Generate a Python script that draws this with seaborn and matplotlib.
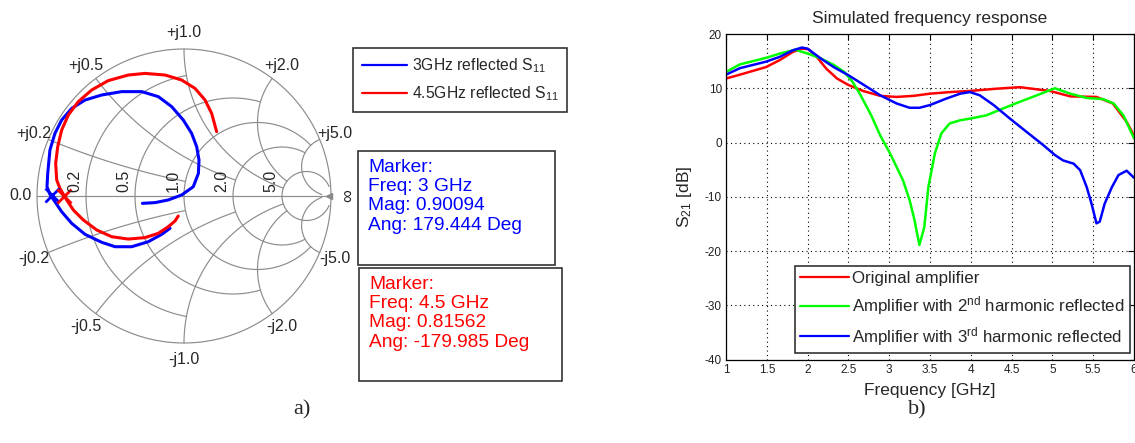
import numpy as np
import pandas as pd
import matplotlib
matplotlib.use("Agg")
import matplotlib.pyplot as plt
import seaborn as sns
from matplotlib.patches import Rectangle

# ---------------- data ----------------
# Smith chart grid (values and where each line stops)
smith_r_values = [0.2, 0.5, 1.0, 2.0, 5.0]
smith_r_limits = [1.0, 2.0, 5.0, 5.0, 30.0]
smith_x_values = [0.2, 0.5, 1.0, 2.0, 5.0]
smith_x_limits = [1.0, 2.0, 5.0, 5.0, 30.0]
smith_r_labels = ["0.2", "0.5", "1.0", "2.0", "5.0"]
smith_x_labels_pos = ["+j0.2", "+j0.5", "+j1.0", "+j2.0", "+j5.0"]
smith_x_labels_neg = ["-j0.2", "-j0.5", "-j1.0", "-j2.0", "-j5.0"]

# reflection coefficient traces (real / imaginary part)
s11_3ghz_re = [-0.283, -0.197, -0.107, -0.016, 0.063, 0.098, 0.102, 0.086, 0.052, -0.005,
               -0.084, -0.175, -0.288, -0.424, -0.560, -0.673, -0.764, -0.832, -0.878,
               -0.912, -0.927, -0.932, -0.912, -0.878, -0.832, -0.764, -0.673, -0.560,
               -0.469, -0.356, -0.243, -0.152, -0.095]
s11_3ghz_im = [-0.050, -0.045, -0.027, 0.007, 0.063, 0.154, 0.245, 0.336, 0.426, 0.517,
               0.608, 0.676, 0.710, 0.710, 0.687, 0.653, 0.596, 0.517, 0.426,
               0.313, 0.154, 0.063, 0.011, -0.039, -0.107, -0.186, -0.261, -0.315,
               -0.345, -0.345, -0.311, -0.261, -0.220]
s11_45ghz_re = [-0.039, -0.061, -0.107, -0.175, -0.265, -0.379, -0.492, -0.594, -0.685,
                -0.753, -0.798, -0.814, -0.844, -0.866, -0.873, -0.859, -0.832, -0.787,
                -0.719, -0.628, -0.515, -0.379, -0.265, -0.129, -0.016, 0.075, 0.143,
                0.188, 0.222]
s11_45ghz_im = [-0.136, -0.170, -0.209, -0.254, -0.283, -0.293, -0.277, -0.231, -0.163,
                -0.095, -0.027, 0.000, 0.052, 0.109, 0.222, 0.336, 0.449, 0.551,
                0.642, 0.721, 0.785, 0.823, 0.834, 0.823, 0.789, 0.732, 0.653,
                0.562, 0.438]
smith_series = ["3GHz reflected S$_{11}$", "4.5GHz reflected S$_{11}$"]

marker_freq = ["3 GHz", "4.5 GHz"]
marker_mag = [0.90094, 0.81562]
marker_ang = [179.444, -179.985]

# S21 frequency responses
freq_orig = [1.0, 1.17, 1.49, 1.66, 1.82, 1.93, 2.01, 2.11, 2.23, 2.36, 2.5, 2.68, 2.89,
             3.09, 3.3, 3.5, 3.75, 3.99, 4.3, 4.6, 4.97, 5.22, 5.54, 5.74, 5.91, 6.0]
s21_orig = [11.8, 12.5, 13.9, 15.2, 16.7, 17.3, 17.2, 15.8, 13.6, 11.8, 10.6, 9.5, 8.6,
            8.4, 8.6, 9.0, 9.3, 9.5, 9.9, 10.2, 9.5, 8.5, 8.4, 7.2, 3.8, 1.3]
freq_2nd = [1.0, 1.17, 1.49, 1.66, 1.85, 2.0, 2.16, 2.32, 2.45, 2.55, 2.65, 2.78, 2.89,
            3.01, 3.17, 3.25, 3.31, 3.37, 3.43, 3.48, 3.56, 3.64, 3.74, 3.87, 3.99, 4.19,
            4.4, 4.6, 4.81, 5.03, 5.22, 5.42, 5.62, 5.75, 5.87, 6.0]
s21_2nd = [13.0, 14.4, 15.6, 16.4, 17.1, 16.4, 15.5, 14.3, 13.0, 11.2, 8.7, 5.0, 1.3,
           -2.0, -7.0, -10.6, -14.3, -18.9, -15.6, -8.2, -2.0, 1.7, 3.5, 4.1, 4.4, 5.0,
           6.3, 7.5, 8.7, 10.0, 9.0, 8.2, 8.0, 7.2, 5.0, 0.8]
freq_3rd = [1.0, 1.17, 1.49, 1.66, 1.82, 1.93, 2.0, 2.16, 2.32, 2.5, 2.68, 2.89, 3.09,
            3.25, 3.37, 3.5, 3.7, 3.87, 3.99, 4.11, 4.28, 4.48, 4.68, 4.89, 5.03, 5.13,
            5.26, 5.34, 5.42, 5.48, 5.54, 5.58, 5.64, 5.73, 5.81, 5.91, 6.0]
s21_3rd = [12.5, 13.7, 14.9, 15.8, 17.0, 17.5, 17.3, 15.5, 13.9, 12.4, 10.7, 8.7, 7.2,
           6.4, 6.4, 6.9, 8.1, 9.0, 9.3, 8.7, 6.9, 4.4, 2.0, -0.5, -2.3, -3.3,
           -3.9, -5.1, -8.2, -11.3, -14.9, -14.6, -11.3, -8.2, -6.0, -5.2, -6.5]
s21_series = ["Original amplifier",
              "Amplifier with 2$^{nd}$ harmonic reflected",
              "Amplifier with 3$^{rd}$ harmonic reflected"]
x_ticks = [1, 1.5, 2, 2.5, 3, 3.5, 4, 4.5, 5, 5.5, 6]
x_tick_labels = ["1", "1.5", "2", "2.5", "3", "3.5", "4", "4.5", "5", "5.5", "6"]
y_ticks = [-40, -30, -20, -10, 0, 10, 20]

# ---------------- style ----------------
sns.set_style("white")
plt.rcParams["font.family"] = ["Liberation Sans", "DejaVu Sans"]
plt.rcParams["mathtext.default"] = "regular"
plt.rcParams["axes.unicode_minus"] = False

W, H = 1135, 443
fig = plt.figure(figsize=(W / 100, H / 100), dpi=100)


def fx(px):
    return px / W


def fy(py):
    return 1 - py / H


# ---------------- Smith chart ----------------
cx, cy, R = 184.0, 196.0, 147.0
k = 1.25
ax1 = fig.add_axes([fx(cx - k * R), fy(cy + k * R), 2 * k * R / W, 2 * k * R / H])
ax1.set_xlim(-k, k)
ax1.set_ylim(-k, k)
ax1.axis("off")

gridc = "#8c8c8c"
glw = 0.85
phi = np.linspace(0, 2 * np.pi, 4001)
ax1.plot(np.cos(phi), np.sin(phi), color=gridc, lw=glw)
ax1.plot([-1, 1], [0, 0], color=gridc, lw=glw)
with np.errstate(all="ignore"):
    for r, xmax in zip(smith_r_values, smith_r_limits):
        g = r / (1 + r) + (1 / (1 + r)) * np.exp(1j * phi)
        z = (1 + g) / (1 - g)
        m = np.abs(z.imag) <= xmax
        gg = np.where(m, g, np.nan + 0j)
        ax1.plot(gg.real, gg.imag, color=gridc, lw=glw)
    for xv, rmax in zip(smith_x_values, smith_x_limits):
        for s in (1, -1):
            g = 1 + 1j * s / xv + (1 / xv) * np.exp(1j * phi)
            z = (1 + g) / (1 - g)
            m = (np.abs(g) <= 1.0000001) & (z.real <= rmax)
            gg = np.where(m, g, np.nan + 0j)
            ax1.plot(gg.real, gg.imag, color=gridc, lw=glw)

lab_fs = 11.5
for xv, lp, ln in zip(smith_x_values, smith_x_labels_pos, smith_x_labels_neg):
    g = (1j * xv - 1) / (1j * xv + 1)
    p = 1.11 * g / abs(g)
    ax1.text(p.real, p.imag, lp, ha="center", va="center", fontsize=lab_fs)
    ax1.text(p.real, -p.imag, ln, ha="center", va="center", fontsize=lab_fs)
ax1.text(-1.115, 0, "0.0", ha="center", va="center", fontsize=lab_fs)
ax1.text(1.12, 0, "\u221e", ha="center", va="center", fontsize=13, rotation=90)
for r, lab in zip(smith_r_values, smith_r_labels):
    g0 = (r - 1) / (r + 1)
    ax1.text(g0 - 0.025, 0.03, lab, ha="right", va="bottom", rotation=90, fontsize=lab_fs)
ax1.plot([0.985], [0], marker="<", color="#888888", ms=5)

smith_df = pd.concat([
    pd.DataFrame({"re": s11_3ghz_re, "im": s11_3ghz_im, "trace": smith_series[0]}),
    pd.DataFrame({"re": s11_45ghz_re, "im": s11_45ghz_im, "trace": smith_series[1]}),
], ignore_index=True)
smith_colors = {smith_series[0]: "#0000ff", smith_series[1]: "#ff0000"}
sns.lineplot(data=smith_df, x="re", y="im", hue="trace", palette=smith_colors,
             sort=False, estimator=None, lw=2.2, ax=ax1, legend=False)
for mag, ang, col in zip(marker_mag, marker_ang, ["#0000ff", "#ff0000"]):
    a = np.deg2rad(ang)
    ax1.plot([mag * np.cos(a)], [mag * np.sin(a)], marker="x", ms=10, mew=2, color=col,
             linestyle="none")
ax1.set_xlabel("")
ax1.set_ylabel("")

# Smith legend
h1 = [plt.Line2D([], [], color=smith_colors[s], lw=1.6) for s in smith_series]
leg1 = ax1.legend(h1, smith_series, loc="upper left", bbox_to_anchor=(fx(353), fy(48)),
                  bbox_transform=fig.transFigure, fontsize=11.3, frameon=True,
                  fancybox=False, edgecolor="#333333", framealpha=1, borderaxespad=0,
                  handlelength=2.9, handletextpad=0.3, labelspacing=0.6,
                  borderpad=0.55)
leg1.get_frame().set_linewidth(1.2)

# marker boxes
box_specs = [((358, 151), (555, 265), "#0000ff"), ((359, 268), (562, 381), "#ff0000")]
for i, ((x0, y0), (x1, y1), col) in enumerate(box_specs):
    fig.add_artist(Rectangle((fx(x0), fy(y1)), (x1 - x0) / W, (y1 - y0) / H,
                             transform=fig.transFigure, fill=False, ec="#333333", lw=1.2))
    txt = (f"Marker:\nFreq: {marker_freq[i]}\nMag: {marker_mag[i]:.5f}\n"
           f"Ang: {marker_ang[i]:.3f} Deg")
    fig.text(fx(x0 + 10), fy(y0 + 8), txt, ha="left", va="top", color=col,
             fontsize=13.8, linespacing=1.17)

# ---------------- S21 plot ----------------
ax2 = fig.add_axes([fx(726), fy(359.5), 408 / W, (359.5 - 34) / H])
s21_df = pd.concat([
    pd.DataFrame({"f": freq_orig, "s21": s21_orig, "series": s21_series[0]}),
    pd.DataFrame({"f": freq_2nd, "s21": s21_2nd, "series": s21_series[1]}),
    pd.DataFrame({"f": freq_3rd, "s21": s21_3rd, "series": s21_series[2]}),
], ignore_index=True)
s21_colors = {s21_series[0]: "#ff0000", s21_series[1]: "#00ff00", s21_series[2]: "#0000ff"}
sns.lineplot(data=s21_df, x="f", y="s21", hue="series", hue_order=s21_series,
             palette=s21_colors, estimator=None, sort=False, lw=1.8, ax=ax2, legend=False)
ax2.set_xlim(1, 6)
ax2.set_ylim(-40, 20)
ax2.set_xticks(x_ticks)
ax2.set_xticklabels(x_tick_labels)
ax2.set_yticks(y_ticks)
ax2.grid(True, color="black", linestyle=(0, (1, 3)), lw=0.8)
for sp in ax2.spines.values():
    sp.set_color("black")
    sp.set_linewidth(0.9)
ax2.tick_params(direction="in", length=4, width=0.8, labelsize=8.5, top=True, right=True,
                colors="black", labelcolor="#222222", pad=3)
ax2.set_title("Simulated frequency response", fontsize=12.5, pad=8)
ax2.set_xlabel("Frequency [GHz]", fontsize=12.5, labelpad=5)
ax2.set_ylabel("S$_{21}$ [dB]", fontsize=12.5, labelpad=8)

h2 = [plt.Line2D([], [], color=s21_colors[s], lw=1.6) for s in s21_series]
leg2 = ax2.legend(h2, s21_series, loc="lower right", bbox_to_anchor=(fx(1130), fy(353)),
                  bbox_transform=fig.transFigure, fontsize=12.2, frameon=True,
                  fancybox=False, edgecolor="#333333", framealpha=1, borderaxespad=0,
                  handlelength=2.9, handletextpad=0.2, labelspacing=0.47,
                  borderpad=0.3)
leg2.get_frame().set_linewidth(1.2)

# captions
fig.text(fx(302), fy(410), "a)", ha="center", va="center", fontsize=16,
         family=["Liberation Serif", "DejaVu Serif"])
fig.text(fx(917), fy(410), "b)", ha="center", va="center", fontsize=16,
         family=["Liberation Serif", "DejaVu Serif"])

fig.savefig("out.png", dpi=100)
